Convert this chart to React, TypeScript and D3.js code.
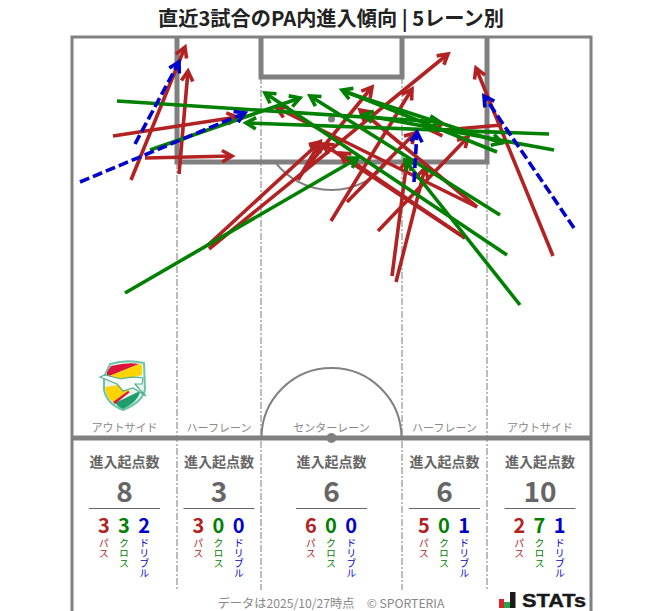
import React from "react";
import * as d3 from "d3";

const FONT = "'Noto Sans CJK JP','Noto Sans',sans-serif";
const title = "直近3試合のPA内進入傾向 | 5レーン別";
const laneNames = ["アウトサイド", "ハーフレーン", "センターレーン", "ハーフレーン", "アウトサイド"];
const laneTotals = [8, 3, 6, 6, 10];
const passCounts = [3, 3, 6, 5, 2];
const crossCounts = [3, 0, 0, 0, 7];
const dribbleCounts = [2, 0, 0, 1, 1];
const kindLabels = ["パス", "クロス", "ドリブル"];
const headerLabel = "進入起点数";
const footer = "データは2025/10/27時点　© SPORTERIA";

// pitch units: x from the left touchline (0..519), y from the goal line (0..401)
const passArrows = [
  [59, 143, 113, 10], [41, 99, 165, 80], [73, 121, 160, 119], [107, 137, 116, 34],
  [136, 208, 248, 105], [137, 212, 376, 17], [226, 143, 248, 105], [226, 141, 300, 50],
  [259, 184, 340, 52], [275, 165, 343, 96], [306, 194, 396, 100], [320, 239, 335, 123],
  [324, 245, 353, 131], [405, 170, 205, 71], [405, 170, 288, 73], [393, 201, 251, 107],
  [393, 201, 268, 116], [481, 219, 404, 31], [430, 88, 360, 94],
];
const crossArrows = [
  [45, 64, 368, 85], [78, 113, 228, 61], [53, 256, 286, 121], [477, 97, 174, 86],
  [482, 113, 291, 78], [425, 115, 270, 53], [428, 178, 238, 59], [435, 218, 193, 56],
  [448, 268, 333, 123], [273, 55, 430, 106],
];
const dribbleArrows = [
  [63, 107, 107, 25], [8, 145, 173, 76], [342, 145, 345, 95], [502, 191, 412, 59],
];
const laneEdges = [0, 105, 189, 330, 415, 521];
const boxEdges = { left: 105, right: 415, sixLeft: 189, sixRight: 330, sixDepth: 40, boxDepth: 125, spot: 82, half: 401 };

const RED = "#b22222", GREEN = "#008000", BLUE = "#0000cd", GRAY = "#808080";
const xS = d3.scaleLinear().domain([0, 519]).range([72, 591]);
const yS = d3.scaleLinear().domain([0, 401]).range([37, 438]);
const line = d3.line();

function arrowPath(a: number[]) {
  const [x1, y1, x2, y2] = [xS(a[0]), yS(a[1]), xS(a[2]), yS(a[3])];
  const ang = Math.atan2(y2 - y1, x2 - x1);
  const len = 11.5, spread = 0.52;
  const barb = (s: number): [number, number] => [x2 - len * Math.cos(ang + s * spread), y2 - len * Math.sin(ang + s * spread)];
  return { shaft: line([[x1, y1], [x2, y2]])!, head: line([barb(1), [x2, y2], barb(-1)])! };
}

function Arrows({ data, color, dash }: { data: number[][]; color: string; dash?: string }) {
  return (
    <g stroke={color} fill="none" strokeWidth={3.6}>
      {data.map((a, i) => {
        const p = arrowPath(a);
        return (
          <g key={i}>
            <path d={p.shaft} strokeDasharray={dash} />
            <path d={p.head} />
          </g>
        );
      })}
    </g>
  );
}

function Crest() {
  return (
    <g transform="translate(99,360)">
      <path d="M11 4 Q28 -1 45 3 L46 29 Q44 42 24 50 Q8 44 5 30 L5 17 Z" fill="#e8f5ef" stroke="#6cc3a8" strokeWidth={2} />
      <path d="M8 12 L12 6 Q28 2 40 4 L8 17 Z" fill="#dc143c" />
      <path d="M8 17 L40 4 L43 5 L43 15 L24 19 Z" fill="#ffd400" />
      <path d="M6 27 L20 25 L31 30 L14 42 Q7 38 6 27 Z" fill="#ffd400" />
      <path d="M16 43 L41 31 Q40 41 24 49 Q19 47 16 43 Z" fill="#1e9e6a" />
      <path d="M14 42 L29 31 L31 32 L16 44 Z" fill="#dc143c" />
      <path d="M1 17 L6 15 L22 19 Q32 16 44 18 L43 24 L36 24 L41 30 L47 36 L34 28 L24 31 L18 24 Z" fill="#fff" stroke="#4fb090" strokeWidth={1.2} />
    </g>
  );
}

export default function App() {
  const laneCenters = laneEdges.slice(0, -1).map((e, i) => xS((e + laneEdges[i + 1]) / 2));
  const kinds = [
    { counts: passCounts, color: RED },
    { counts: crossCounts, color: GREEN },
    { counts: dribbleCounts, color: BLUE },
  ];
  const cx = xS(259.5);
  const arc = d3.arc();
  return (
    <svg width={663} height={611} style={{ position: "absolute", left: 0, top: 0, fontFamily: FONT }}>
      <rect width={663} height={611} fill="#fff" />
      <text x={331} y={26} textAnchor="middle" fontSize={20.2} fontWeight={700} fill="#222">{title}</text>

      {/* lane separators */}
      <g stroke="#909090" strokeWidth={1.2} strokeDasharray="7 2 2 2">
        {[boxEdges.left, boxEdges.right].map((v) => (
          <line key={v} x1={xS(v)} x2={xS(v)} y1={yS(boxEdges.boxDepth)} y2={590} />
        ))}
        {[boxEdges.sixLeft, boxEdges.sixRight].map((v) => (
          <line key={v} x1={xS(v)} x2={xS(v)} y1={yS(boxEdges.sixDepth)} y2={590} />
        ))}
      </g>

      {/* pitch */}
      <g fill="none" stroke={GRAY}>
        <path d={`M${xS(0)} 611 V${yS(0)} H${xS(519)} V611`} strokeWidth={3} />
        <path d={`M${xS(boxEdges.left)} ${yS(0)} V${yS(boxEdges.boxDepth)} H${xS(boxEdges.right)} V${yS(0)}`} strokeWidth={5} />
        <path d={`M${xS(boxEdges.sixLeft)} ${yS(0)} V${yS(boxEdges.sixDepth)} H${xS(boxEdges.sixRight)} V${yS(0)}`} strokeWidth={5} />
        <line x1={xS(0)} x2={xS(519)} y1={yS(boxEdges.half)} y2={yS(boxEdges.half)} strokeWidth={5} />
        <path
          transform={`translate(${cx},${yS(boxEdges.half)})`}
          d={arc({ innerRadius: 70, outerRadius: 70, startAngle: -Math.PI / 2, endAngle: Math.PI / 2 })!}
          strokeWidth={2}
        />
        <path
          transform={`translate(${cx},${yS(boxEdges.spot)})`}
          d={arc({ innerRadius: 71, outerRadius: 71, startAngle: Math.PI - 0.93, endAngle: Math.PI + 0.93 })!}
          strokeWidth={2}
        />
      </g>
      <circle cx={cx} cy={yS(boxEdges.spot)} r={3.5} fill={GRAY} />
      <circle cx={cx} cy={yS(boxEdges.half)} r={5} fill={GRAY} />

      <Arrows data={passArrows} color={RED} />
      <Arrows data={crossArrows} color={GREEN} />
      <Arrows data={dribbleArrows} color={BLUE} dash="10 4" />

      <Crest />

      {laneCenters.map((c, i) => (
        <g key={i} textAnchor="middle">
          <text x={c} y={432} fontSize={11} fill="#888">{laneNames[i]}</text>
          <text x={c} y={467} fontSize={14} fontWeight={700} fill="#666">{headerLabel}</text>
          <text x={c} y={502} fontSize={28} fontWeight={700} fill="#666">{laneTotals[i]}</text>
          <line x1={c - 35.5} x2={c + 35.5} y1={508.5} y2={508.5} stroke="#666" strokeWidth={1} />
          {kinds.map((k, j) => {
            const kx = c + (j - 1) * 20.2 - 0.5;
            return (
              <g key={j} fill={k.color}>
                <text x={kx} y={533} fontSize={20} fontWeight={700}>{k.counts[i]}</text>
                <text
                  x={kx}
                  y={538}
                  fontSize={10}
                  textAnchor="start"
                  style={{ writingMode: "vertical-rl" }}
                >{kindLabels[j]}</text>
              </g>
            );
          })}
        </g>
      ))}

      <text x={331} y={608} textAnchor="middle" fontSize={12.2} fill="#888">{footer}</text>

      {/* STATs logo */}
      <rect x={499} y={599} width={5} height={9} fill="#e0202a" />
      <rect x={504} y={602} width={6} height={6} fill="#22a650" />
      <rect x={510} y={592} width={5.5} height={16} fill="#1a1a1a" />
      <text
        x={522}
        y={607}
        fontFamily="'Liberation Sans',sans-serif"
        fontWeight={700}
        fontSize={18}
        textLength={64}
        lengthAdjust="spacingAndGlyphs"
        stroke="#1a1a1a"
        strokeWidth={0.4}
        fill="#1a1a1a"
      >STATs</text>
    </svg>
  );
}
